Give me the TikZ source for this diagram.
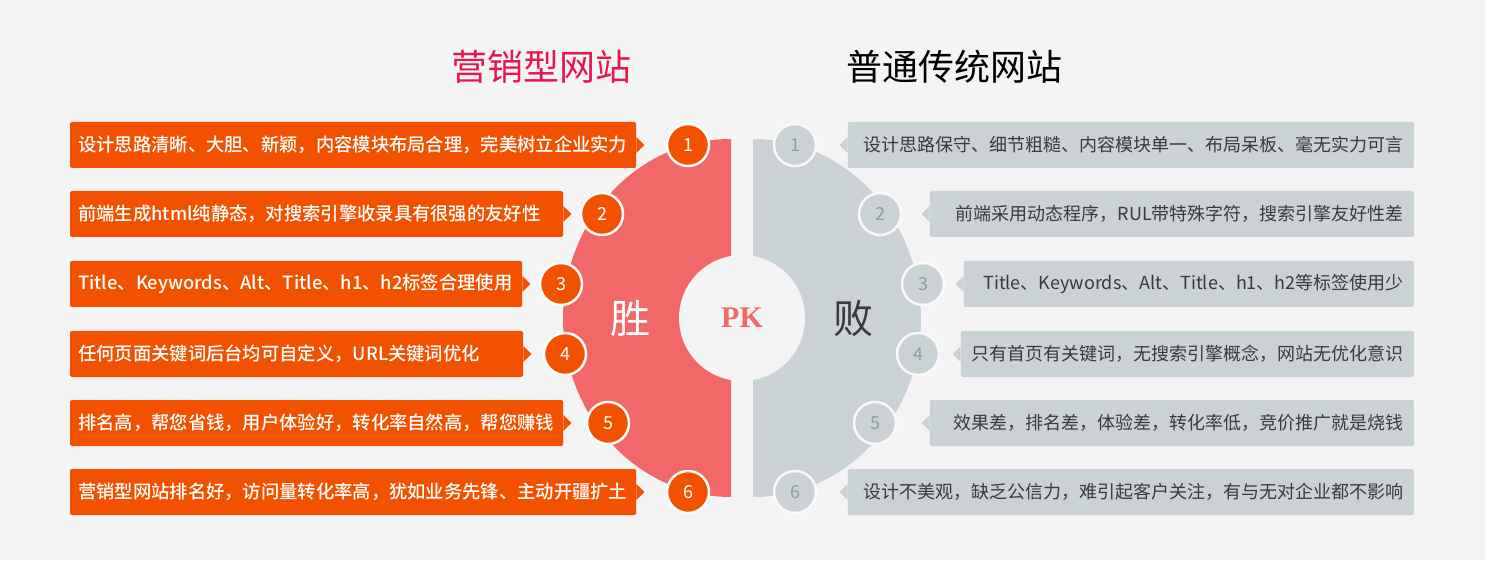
\documentclass[tikz,border=0pt]{standalone}
\usepackage{fontspec}
\setmainfont{Noto Sans CJK SC}
\newfontfamily\pkfont{Liberation Serif}
\newfontfamily\lboxfont{Noto Sans CJK SC Medium}
\usetikzlibrary{calc}
\definecolor{bgc}{HTML}{F4F4F4}
\definecolor{orangec}{HTML}{F25100}
\definecolor{redhalf}{HTML}{F26767}
\definecolor{grayc}{HTML}{CBD2D6}
\definecolor{titlered}{HTML}{E8164A}
\definecolor{txtgray}{HTML}{3A3A3A}
\definecolor{numgray}{HTML}{8D9CA6}
\begin{document}
\begin{tikzpicture}[x=1pt,y=1pt,
  lbox/.style={fill=orangec, text=white, anchor=west, minimum height=46, inner xsep=8, inner ysep=0, align=left, font=\fontsize{18.3}{20}\selectfont\lboxfont, rounded corners=1.5},
  rbox/.style={fill=grayc, text=txtgray, anchor=east, minimum height=46, inner xsep=10, inner ysep=0, align=right, font=\fontsize{18}{20}\selectfont, rounded corners=1.5},
  lnum/.style={circle, fill=orangec, draw=white, line width=2.5, minimum size=42, inner sep=0, text=white, font=\fontsize{18}{20}\selectfont},
  rnum/.style={circle, fill=grayc, draw=white!95!gray, line width=2.5, minimum size=42, inner sep=0, text=numgray, font=\fontsize{18}{20}\selectfont},
  ttl/.style={font=\fontsize{36}{40}\selectfont}
]
\fill[bgc] (0,0) rectangle (1485,560);
\useasboundingbox (0,0) rectangle (1485,560);

% titles
\node[ttl, text=titlered] (t1) at (541,493) {营销型网站};
\node[ttl, text=black] (t2) at (954,493) {普通传统网站};

% half discs
\fill[redhalf] (731,421) arc[start angle=90,end angle=270,x radius=168,y radius=179] -- cycle;
\fill[grayc] (753,421) arc[start angle=90,end angle=-90,x radius=168,y radius=179] -- cycle;
\node[circle, fill=bgc, minimum size=126, inner sep=0, text=redhalf, font=\fontsize{30}{32}\selectfont\pkfont\bfseries] (pk) at (742,242) {PK};
\node[text=white, font=\fontsize{40}{44}\selectfont] (win) at (630,242) {胜};
\node[text=txtgray, font=\fontsize{40}{44}\selectfont] (lose) at (853,242) {败};

% left side
\foreach \i/\y/\w/\cx/\t in {
  1/415/566/688/{设计思路清晰、大胆、新颖，内容模块布局合理，完美树立企业实力},
  2/346/493/602/{前端生成html纯静态，对搜索引擎收录具有很强的友好性},
  3/276/452/561/{Title、Keywords、Alt、Title、h1、h2标签合理使用},
  4/206/453/565/{任何页面关键词后台均可自定义，URL关键词优化},
  5/137/493/608/{排名高，帮您省钱，用户体验好，转化率自然高，帮您赚钱},
  6/68/566/688/{营销型网站排名好，访问量转化率高，犹如业务先锋、主动开疆扩土}}{
  \node[lbox, minimum width=\w, text width=\w-16] (l\i) at (70,\y) {\t};
  \fill[orangec] ([yshift=8]l\i.east) -- ([xshift=8]l\i.east) -- ([yshift=-8]l\i.east) -- cycle;
  \node[lnum] (n\i) at (\cx,\y) {\i};
}

% right side
\foreach \i/\y/\w/\cx/\t in {
  1/415/566/795/{设计思路保守、细节粗糙、内容模块单一、布局呆板、毫无实力可言},
  2/346/484/880/{前端采用动态程序，RUL带特殊字符，搜索引擎友好性差},
  3/276/450/923/{Title、Keywords、Alt、Title、h1、h2等标签使用少},
  4/206/453/918/{只有首页有关键词，无搜索引擎概念，网站无优化意识},
  5/137/484/875/{效果差，排名差，体验差，转化率低，竞价推广就是烧钱},
  6/68/566/795/{设计不美观，缺乏公信力，难引起客户关注，有与无对企业都不影响}}{
  \node[rbox, minimum width=\w, text width=\w-20] (r\i) at (1414,\y) {\t};
  \fill[grayc] ([yshift=8]r\i.west) -- ([xshift=-8]r\i.west) -- ([yshift=-8]r\i.west) -- cycle;
  \node[rnum] (m\i) at (\cx,\y) {\i};
}
\end{tikzpicture}
\end{document}
